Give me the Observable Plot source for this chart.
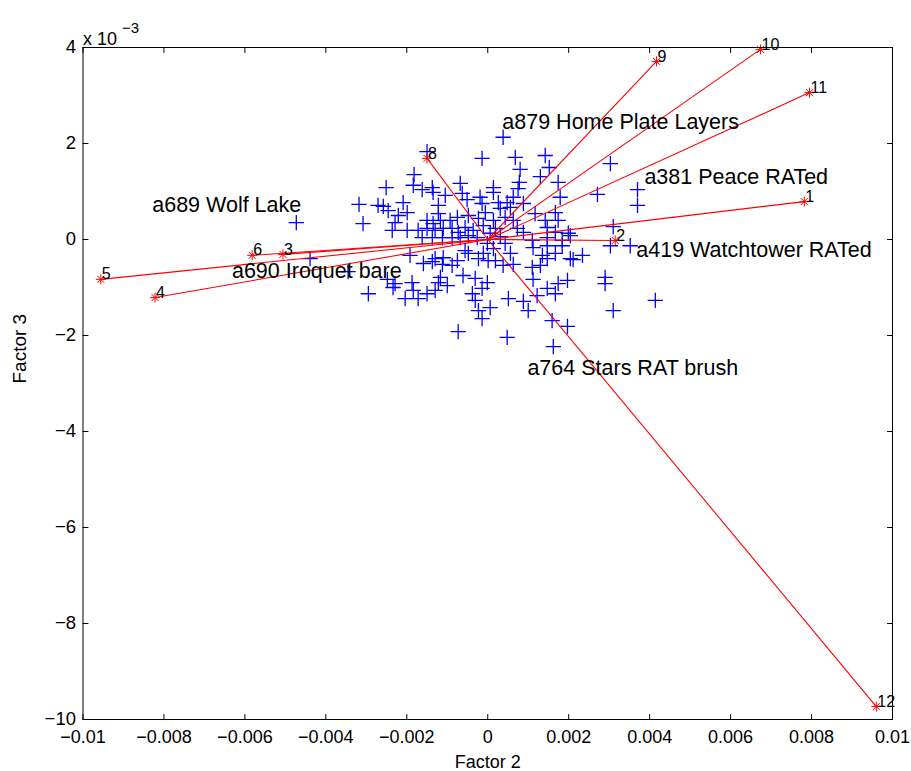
<!DOCTYPE html>
<html>
<head>
<meta charset="utf-8">
<script src="https://cdn.jsdelivr.net/npm/d3@7"></script>
<script src="https://cdn.jsdelivr.net/npm/@observablehq/plot@0.6"></script>
<style>
  html, body { margin: 0; padding: 0; background: #fff; }
  #chart svg { display: block; }
</style>
</head>
<body>
<div id="chart"></div>
<script>
// Observation scores: Factor 2 (x, in units of 10^-3) and Factor 3 (y, in units of 10^-3)
const scoreX = [
  -4.73, -3.18, -3.08, -2.71, -4.39, -3.45, -2.95,
  -1.50, -1.82, -1.84, -2.51, -1.62, -1.37, -1.35, -1.05, -0.68, -0.63, -0.51,
  -2.09, -2.58, -2.46, -1.99, -1.22, -1.22, -2.21, -2.29, -1.50, -1.35, -1.17,
  -0.93, -0.75, -0.48, -0.23, -2.36, -1.99, -1.72, -1.50, -1.30, -1.10, -0.88,
  -0.73, -0.56, -0.36, -1.62, -1.37, -1.12, -0.88, -0.68, -0.48, -0.26,
  -0.14, 0.38, 0.68, 1.42, 0.80, 1.52, 1.30, 0.78, 0.75, 1.74, 0.14, 0.14,
  1.79, -0.19, -0.14, 0.26, 0.48, 0.63, 0.88, -0.06, 0.31, 0.56, 1.17, 1.67,
  0.14, 0.43, 0.63, 1.42, 1.74, -0.11, 0.19, 0.73, 0.88, 1.47, 1.67, 1.99,
  1.10, 1.47, 1.84, 0.06, 0.31, -0.01, 0.43,
  3.03, 2.71, 3.70, 3.70, 3.10, 2.04,
  -1.92, -1.59, -1.37, -1.30, -1.10, -1.12, -0.88, -0.75, -0.56, -0.48, -0.23,
  -0.61, -0.31, -2.48, -2.29, -2.34, -1.87, -1.84, -1.17, -1.22, -1.00, -1.30,
  -1.50, -2.04, -1.72, -0.38, -0.31, -0.14, -0.23, -0.14, -0.73,
  -0.11, 0.14, 0.56, 0.01, 0.19, 0.63, 0.38, 1.12, 1.47, 1.84, 1.35, 1.47,
  1.67, 2.04, 2.34, 1.10, 1.30, 1.12, -0.01, 1.74, 1.97, 1.47, 1.67, 0.51,
  0.88, 1.22, 0.06, 1.00, 1.59, 1.97, 0.48, 1.62,
  3.03, 3.52, 2.11, 2.90, 2.90, 4.14, 3.10
];
const scoreY = [
  0.35, 0.73, 0.33, 0.71, -0.40, -0.67, -1.13,
  1.83, 1.35, 1.13, 1.08, 1.04, 1.08, 0.98, 0.92, 1.17, 0.96, 0.83,
  0.77, 0.69, 0.60, 0.56, 0.71, 0.54, 0.50, 0.35, 0.40, 0.33, 0.40,
  0.40, 0.46, 0.50, 0.44, 0.19, 0.19, 0.19, 0.23, 0.19, 0.23, 0.23,
  0.15, 0.25, 0.19, 0.04, 0.04, 0.04, 0.04, 0.04, 0.08, 0.04,
  1.69, 2.13, 1.71, 1.75, 1.46, 1.50, 1.31, 1.19, 1.06, 1.19, 1.08, 0.98,
  0.88, 0.88, 0.75, 0.77, 0.77, 0.88, 0.75, 0.56, 0.65, 0.67, 0.54, 0.56,
  0.40, 0.46, 0.40, 0.40, 0.40, 0.29, 0.23, 0.23, 0.15, 0.25, 0.15, 0.13,
  -0.02, 0.04, -0.02, 0.13, 0.06, -0.08, -0.08,
  1.58, 0.94, 1.04, 0.71, 0.27, 0.08,
  -0.33, -0.50, -0.46, -0.40, -0.38, -0.52, -0.54, -0.44, -0.23, -0.29, -0.40,
  -0.75, -0.81, -0.83, -0.92, -1.00, -0.90, -1.06, -0.79, -0.90, -0.96, -1.06,
  -1.13, -1.23, -1.23, -1.13, -1.27, -1.02, -1.48, -1.65, -1.92,
  -0.29, -0.19, -0.29, -0.44, -0.44, -0.52, -0.54, -0.17, -0.13, -0.13, -0.33, -0.40,
  -0.29, -0.40, -0.33, -0.58, -0.54, -0.83, -0.90, -0.92, -0.85, -1.02, -1.13, -1.23,
  -1.29, -1.17, -1.42, -1.48, -1.69, -1.81, -2.04, -2.23,
  -0.13, -0.13, -0.42, -0.79, -0.92, -1.27, -1.48
];

// Variable loadings (biplot vectors), same units as the scores
const loadingIds = [1, 2, 3, 4, 5, 6, 8, 9, 10, 11, 12];
const loadingX = [7.82, 3.15, -5.06, -8.22, -9.56, -5.82, -1.50, 4.17, 6.74, 7.95, 9.60];
const loadingY = [0.79, -0.02, -0.31, -1.21, -0.83, -0.33, 1.69, 3.71, 3.96, 3.06, -9.73];

// Named sites annotated on the plot
const siteNames = [
  "a879 Home Plate Layers", "a381 Peace RATed", "a689 Wolf Lake",
  "a419 Watchtower RATed", "a690 Iroquet bare", "a764 Stars RAT brush"
];
const siteX = [0.36, 3.87, -8.29, 3.67, -6.32, 0.98];
const siteY = [2.44, 1.29, 0.71, -0.23, -0.65, -2.67];

// Axis ticks
const xTicks = [-0.01, -0.008, -0.006, -0.004, -0.002, 0, 0.002, 0.004, 0.006, 0.008, 0.01];
const yTicks = [-10, -8, -6, -4, -2, 0, 2, 4];

const k = 1e-3;
const scores = scoreX.map((x, i) => ({x: x * k, y: scoreY[i]}));
const loadings = loadingIds.map((id, i) => ({id, x: loadingX[i] * k, y: loadingY[i]}));
const sites = siteNames.map((name, i) => ({name, x: siteX[i] * k, y: siteY[i]}));

const minus = (s) => s.replace("-", "\u2212");
const fmtX = (d) => d === 0 ? "0" : minus(String(d));
const fmtY = (d) => minus(String(d));

// Inward-pointing tick stub
const stub = {draw(context, l) { context.moveTo(0, 0); context.lineTo(0, -l); }};
const tickOpts = {length: 5, shape: stub, anchor: "start", stroke: "black", strokeWidth: 1};

const font = "'Liberation Sans', Arial, Helvetica, sans-serif";
const red = "#ff0000";
const blue = "#0000ff";

const chart = Plot.plot({
  width: 911,
  height: 771,
  marginLeft: 82.5,
  marginRight: 19,
  marginTop: 47,
  marginBottom: 52,
  style: {fontFamily: font, background: "#fff", color: "black", overflow: "visible"},
  x: {domain: [-0.01, 0.01], label: null},
  y: {domain: [-10, 4], label: null},
  marks: [
    // scores
    Plot.dot(scores, {x: "x", y: "y", symbol: "plus", r: 5, stroke: blue, strokeWidth: 1.3}),
    // loading vectors from the origin
    Plot.link(loadings, {x1: 0, y1: 0, x2: "x", y2: "y", stroke: red, strokeWidth: 1.1}),
    Plot.dot(loadings, {x: "x", y: "y", symbol: "plus", r: 3.3, stroke: red, strokeWidth: 1}),
    Plot.dot(loadings, {x: "x", y: "y", symbol: "times", r: 3.3, stroke: red, strokeWidth: 1}),
    Plot.text(loadings, {x: "x", y: "y", text: (d) => String(d.id), dx: 1, dy: -5, textAnchor: "start", fontSize: 16, fill: "black"}),
    // site annotations
    Plot.text(sites, {x: "x", y: "y", text: "name", textAnchor: "start", fontSize: 21.5, fill: "black"}),
    // box and inward ticks on all four sides
    Plot.frame({stroke: "black", strokeWidth: 1}),
    Plot.vector(xTicks, {x: (d) => d, frameAnchor: "bottom", rotate: 0, ...tickOpts}),
    Plot.vector(xTicks, {x: (d) => d, frameAnchor: "top", rotate: 180, ...tickOpts}),
    Plot.vector(yTicks, {y: (d) => d, frameAnchor: "left", rotate: 90, ...tickOpts}),
    Plot.vector(yTicks, {y: (d) => d, frameAnchor: "right", rotate: -90, ...tickOpts}),
    // tick labels
    Plot.axisX(xTicks, {anchor: "bottom", tickSize: 0, tickPadding: 11, tickFormat: fmtX, fontSize: 18, label: null}),
    Plot.axisY(yTicks, {anchor: "left", tickSize: 0, tickPadding: 7, tickFormat: fmtY, fontSize: 18.5, label: null}),
    // axis titles
    Plot.text(["Factor 2"], {frameAnchor: "bottom", dy: 48, lineAnchor: "bottom", fontSize: 18, fill: "black"}),
    Plot.text(["Factor 3"], {frameAnchor: "left", dx: -63, rotate: -90, fontSize: 19, fill: "black"}),
    // exponent note
    Plot.text(["x 10"], {frameAnchor: "top-left", dx: 0, dy: -15, textAnchor: "start", fontSize: 18, fill: "black"}),
    Plot.text(["\u22123"], {frameAnchor: "top-left", dx: 39, dy: -25, textAnchor: "start", fontSize: 15, fill: "black"})
  ]
});

document.getElementById("chart").appendChild(chart);
</script>
</body>
</html>
